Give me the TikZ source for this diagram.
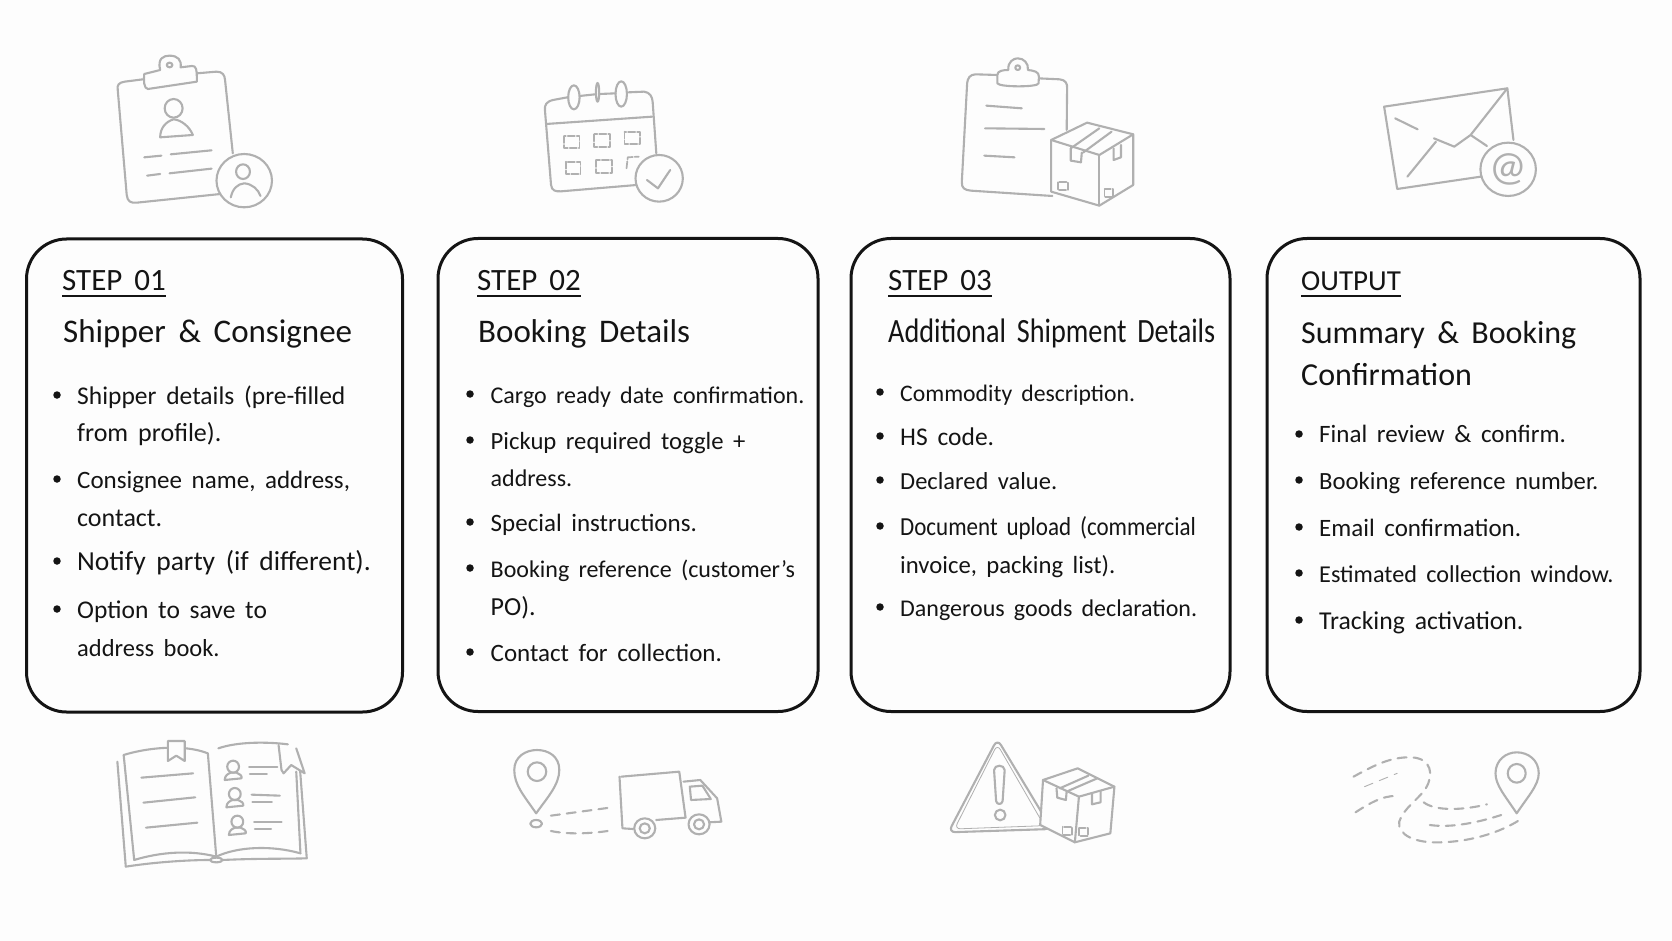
\documentclass[tikz,border=0pt]{standalone}
\usepackage{fontspec}
\setmainfont[WordSpace=1.7]{Carlito}
\begin{document}
\begin{tikzpicture}[x=1pt,y=-1pt]

% Colori
\definecolor{paperWhite}{HTML}{FDFDFD}
\definecolor{inkBlack}{HTML}{141414}
\definecolor{iconGray}{HTML}{B0B0B0}

\tikzset{
  fs/.style={font=\fontsize{#1}{#1}\selectfont},
  cardbox/.style={draw=inkBlack, fill=paperWhite, line width=3pt, rounded corners=40pt, inner sep=0pt, minimum height=473pt},
  steplabel/.style={anchor=base west, inner sep=0pt, fs=31, text=inkBlack},
  cardtitle/.style={anchor=base west, inner sep=0pt, fs=33, text=inkBlack},
  itemtext/.style={anchor=base west, inner sep=0pt, fs=25, text=inkBlack},
  itemdot/.style={circle, fill=inkBlack, inner sep=0pt, minimum size=7.5pt},
  stepline/.style={draw=inkBlack, line width=1.8pt},
  icon/.style={draw=iconGray, line width=2.1pt, line cap=round, line join=round},
  iconfill/.style={icon, fill=paperWhite},
  icondash/.style={icon, dash pattern=on 9pt off 7pt},
  iconsketch/.style={icon, line width=1.7pt, dash pattern=on 7pt off 2pt},
  crop/.style n args={3}{shift={(#1,#2)}, x=#3pt, y=-0.3333pt}
}

% Sfondo
\fill[paperWhite] (0,0) rectangle (1672,941);
\useasboundingbox (0,0) rectangle (1672,941);

% Schede
\node[cardbox, minimum width=376pt] (cardA) at (214.5,475.5) {};
\node[cardbox, minimum width=380pt] (cardB) at (628,475) {};
\node[cardbox, minimum width=379pt] (cardC) at (1040.5,475) {};
\node[cardbox, minimum width=373pt] (cardD) at (1453.5,475) {};

% Step 01
\node[steplabel] (stepA) at (62,290) {STEP 01};
\draw[stepline] ([yshift=-6pt]stepA.base west) -- ([yshift=-6pt]stepA.base east);
\node[cardtitle] (titleA) at (63,342) {Shipper \& Consignee};
\node[itemdot] (dotAa) at (57,395) {};
\node[itemtext, fs=25.5] (itemAa) at (77,404) {Shipper details (pre-filled};
\node[itemtext, fs=26] (itemAb) at (77,441) {from profile).};
\node[itemdot] (dotAc) at (57,479) {};
\node[itemtext, fs=25] (itemAc) at (77,488) {Consignee name, address,};
\node[itemtext, fs=26] (itemAd) at (77,526) {contact.};
\node[itemdot] (dotAe) at (57,561) {};
\node[itemtext, fs=27.5] (itemAe) at (77,570) {Notify party (if different).};
\node[itemdot] (dotAf) at (57,609) {};
\node[itemtext, fs=25.5] (itemAf) at (77,618) {Option to save to};
\node[itemtext, fs=24.5] (itemAg) at (77,656) {address book.};

% Step 02
\node[steplabel] (stepB) at (477,290) {STEP 02};
\draw[stepline] ([yshift=-6pt]stepB.base west) -- ([yshift=-6pt]stepB.base east);
\node[cardtitle] (titleB) at (478,342) {Booking Details};
\node[itemdot] (dotBa) at (470,394) {};
\node[itemtext, fs=24] (itemBa) at (490.5,403) {Cargo ready date confirmation.};
\node[itemdot] (dotBb) at (470,440) {};
\node[itemtext, fs=24.7] (itemBb) at (490.5,449) {Pickup required toggle +};
\node[itemtext, fs=24] (itemBc) at (490.5,486) {address.};
\node[itemdot] (dotBd) at (470,522) {};
\node[itemtext] (itemBd) at (490.5,531) {Special instructions.};
\node[itemdot] (dotBe) at (470,568) {};
\node[itemtext, fs=24] (itemBe) at (490.5,577) {Booking reference (customer's};
\node[itemtext, fs=26] (itemBf) at (490.5,615) {PO).};
\node[itemdot] (dotBg) at (470,652) {};
\node[itemtext] (itemBg) at (490.5,661) {Contact for collection.};

% Step 03
\node[steplabel] (stepC) at (888,290) {STEP 03};
\draw[stepline] ([yshift=-6pt]stepC.base west) -- ([yshift=-6pt]stepC.base east);
\node[cardtitle, fs=34] (titleC) at (888,342) {\scalebox{0.83}[1]{Additional Shipment Details}};
\node[itemdot] (dotCa) at (880,392) {};
\node[itemtext, fs=23.7] (itemCa) at (900,401) {Commodity description.};
\node[itemdot] (dotCb) at (880,436) {};
\node[itemtext, fs=25.5] (itemCb) at (900,445) {HS code.};
\node[itemdot] (dotCc) at (880,480) {};
\node[itemtext, fs=24.5] (itemCc) at (900,489) {Declared value.};
\node[itemdot] (dotCd) at (880,526) {};
\node[itemtext, fs=26] (itemCd) at (900,535) {\scalebox{0.885}[1]{Document upload (commercial}};
\node[itemtext, fs=24.7] (itemCe) at (900,573) {invoice, packing list).};
\node[itemdot] (dotCf) at (880,607) {};
\node[itemtext, fs=24] (itemCf) at (900,616) {Dangerous goods declaration.};

% Output
\node[steplabel, fs=29] (stepD) at (1301,290) {OUTPUT};
\draw[stepline] ([yshift=-6pt]stepD.base west) -- ([yshift=-6pt]stepD.base east);
\node[cardtitle, fs=32] (titleD) at (1301,343) {Summary \& Booking};
\node[cardtitle, fs=32] (titleE) at (1301,385) {Confirmation};
\node[itemdot] (dotDa) at (1299,434) {};
\node[itemtext] (itemDa) at (1319,442.5) {Final review \& confirm.};
\node[itemdot] (dotDb) at (1299,480) {};
\node[itemtext, fs=24.7] (itemDb) at (1319,489) {Booking reference number.};
\node[itemdot] (dotDc) at (1299,527) {};
\node[itemtext] (itemDc) at (1319,536) {Email confirmation.};
\node[itemdot] (dotDd) at (1299,573) {};
\node[itemtext, fs=24.2] (itemDd) at (1319,582) {Estimated collection window.};
\node[itemdot] (dotDe) at (1299,620) {};
\node[itemtext, fs=25.7] (itemDe) at (1319,629) {Tracking activation.};

% Icone in alto: scheda e calendario
\begin{scope}[crop={90}{40}{0.408}]
% Scheda con persona
\draw[icon] (130,118) -- (85,125) .. controls (70,128) and (66,135) .. (68,150) -- (90,465) .. controls (92,485) and (100,490) .. (115,488) -- (320,462);
\draw[icon] (262,100) -- (310,95) .. controls (325,95) and (330,105) .. (331,120) -- (350,340);
\draw[iconfill] (133,102) -- (172,90) .. controls (165,55) and (180,47) .. (195,47) .. controls (215,47) and (225,60) .. (222,82) -- (250,78) .. controls (260,78) and (262,85) .. (262,125) -- (142,147) .. controls (132,147) and (131,120) .. (133,102) -- cycle;
\draw[icon] (195,75) ellipse [x radius=7, y radius=7];
\draw[icon] (205,205) ellipse [x radius=22, y radius=28];
\draw[icon] (172,292) .. controls (172,265) and (185,245) .. (205,238) .. controls (225,240) and (245,262) .. (252,285) -- cycle;
\draw[icon] (133,352) -- (175,347);
\draw[icon] (198,343) -- (298,331);
\draw[icon] (140,407) -- (172,402);
\draw[icon] (195,400) -- (298,386);
\draw[iconfill] (378,422) ellipse [x radius=68, y radius=80];
\draw[icon] (375,395) ellipse [x radius=17, y radius=22];
\draw[icon] (345,472) .. controls (350,445) and (362,432) .. (378,430) .. controls (398,432) and (412,448) .. (418,468);
% Calendario
\draw[icon] (1170,172) -- (1135,180) .. controls (1118,185) and (1114,195) .. (1115,210) -- (1130,435) .. controls (1132,452) and (1140,455) .. (1155,454) -- (1340,435);
\draw[icon] (1320,157) -- (1358,155) .. controls (1372,157) and (1378,170) .. (1379,185) -- (1388,340);
\draw[icon] (1186,172) ellipse [x radius=14, y radius=36];
\draw[icon] (1244,157) ellipse [x radius=4, y radius=28];
\draw[icon] (1302,162) ellipse [x radius=14, y radius=38];
\draw[icon] (1200,168) -- (1238,163);
\draw[icon] (1250,162) -- (1288,160);
\draw[icon] (1118,252) -- (1378,230);
\draw[iconsketch] (1162,288) rectangle (1200,325);
\draw[iconsketch] (1236,283) rectangle (1274,322);
\draw[iconsketch] (1310,275) rectangle (1348,312);
\draw[iconsketch] (1166,365) rectangle (1202,402);
\draw[iconsketch] (1240,360) rectangle (1280,398);
\draw[iconsketch] (1315,385) -- (1318,352) -- (1345,350);
\draw[iconfill] (1395,415) ellipse [x radius=58, y radius=70];
\draw[icon] (1365,420) -- (1392,445) -- (1422,390);
\end{scope}

% Icone in alto: scheda con pacco e busta
\begin{scope}[crop={930}{40}{0.408}]
\draw[icon] (165,105) -- (112,103) .. controls (98,103) and (92,115) .. (91,130) -- (78,425) .. controls (77,445) and (85,450) .. (100,452) -- (300,468);
\draw[icon] (265,115) -- (318,118) .. controls (332,120) and (337,130) .. (336,145) -- (335,270);
\draw[iconfill] (165,130) -- (165,105) .. controls (165,92) and (180,90) .. (192,90) .. controls (190,65) and (205,55) .. (215,55) .. controls (230,55) and (242,70) .. (240,90) .. controls (255,92) and (267,95) .. (267,110) -- (266,130) .. controls (266,142) and (170,142) .. (165,130) -- cycle;
\draw[icon] (215,83) ellipse [x radius=6, y radius=7];
\draw[icon] (138,197) -- (225,205);
\draw[icon] (135,265) -- (280,267);
\draw[icon] (133,347) -- (207,352);
\draw[iconfill] (297,300) -- (385,248) -- (498,283) -- (498,435) -- (415,497) -- (297,455) -- cycle;
\draw[icon] (297,300) -- (415,345) -- (498,283);
\draw[icon] (415,345) -- (415,497);
\draw[icon] (345,325) -- (415,265);
\draw[icon] (375,338) -- (445,275);
\draw[icon] (345,325) -- (345,362) -- (370,367) -- (372,338);
\draw[icon] (450,325) -- (450,360) -- (468,352) -- (468,315);
\draw[iconsketch] (313,427) rectangle (338,450);
\draw[iconsketch] (428,447) rectangle (448,472);
% Busta
\draw[icon] (1113,200) -- (1415,145) -- (1430,300);
\draw[icon] (1113,200) -- (1145,447) -- (1350,410);
\draw[icon] (1140,235) -- (1195,268);
\draw[icon] (1235,295) -- (1285,320) -- (1325,285) -- (1415,145);
\draw[icon] (1170,410) -- (1240,305);
\draw[icon] (1325,285) -- (1365,318);
\draw[iconfill] (1417,388) ellipse [x radius=68, y radius=80];
\node[text=iconGray, inner sep=0pt, fs=42] (atsign) at (1417,388) {@};
\end{scope}

% Icone in basso: rubrica e furgone
\begin{scope}[crop={90}{725}{0.4209}]
% Rubrica
\draw[icon] (65,110) -- (85,425) .. controls (150,412) and (230,405) .. (285,405);
\draw[icon] (315,405) .. controls (400,400) and (460,402) .. (515,400) -- (497,100);
\draw[icon] (80,90) .. controls (130,70) and (220,55) .. (280,85) -- (300,395);
\draw[icon] (80,90) -- (105,405) .. controls (170,380) and (240,375) .. (300,395);
\draw[icon] (305,70) .. controls (350,50) and (420,50) .. (470,58);
\draw[icon] (490,140) -- (500,385);
\draw[icon] (300,395) .. controls (350,365) and (430,360) .. (500,385);
\draw[icon] (300,405) ellipse [x radius=15, y radius=7];
\draw[iconfill] (185,108) -- (185,48) -- (225,48) -- (225,108) -- (205,92) -- cycle;
\draw[iconfill] (448,60) -- (455,135) -- (460,145) -- (478,120) -- (510,145) -- (490,70);
\draw[icon] (122,158) -- (245,145);
\draw[icon] (127,233) -- (250,217);
\draw[icon] (133,308) -- (255,293);
\draw[icon] (340,125) ellipse [x radius=14, y radius=18];
\draw[icon] (320,165) .. controls (320,150) and (330,145) .. (335,143) -- (348,143) .. controls (355,146) and (362,152) .. (360,160) -- cycle;
\draw[icon] (378,127) -- (445,127);
\draw[icon] (380,147) -- (420,147);
\draw[icon] (344,207) ellipse [x radius=14, y radius=18];
\draw[icon] (324,247) .. controls (324,232) and (334,227) .. (339,225) -- (352,225) .. controls (359,228) and (366,234) .. (364,242) -- cycle;
\draw[icon] (384,209) -- (451,212);
\draw[icon] (386,230) -- (432,230);
\draw[icon] (350,290) ellipse [x radius=14, y radius=18];
\draw[icon] (330,330) .. controls (330,315) and (340,310) .. (345,308) -- (358,308) .. controls (365,311) and (372,317) .. (370,325) -- cycle;
\draw[icon] (390,292) -- (455,292);
\draw[icon] (392,312) -- (430,312);
% Segnaposto
\draw[icon] (1060,265) .. controls (1030,210) and (1008,180) .. (1008,135) .. controls (1008,95) and (1035,75) .. (1062,75) .. controls (1090,75) and (1115,95) .. (1115,135) .. controls (1115,180) and (1085,220) .. (1060,265) -- cycle;
\draw[icon] (1062,140) ellipse [x radius=22, y radius=28];
\draw[icon] (1060,296) ellipse [x radius=14, y radius=11];
\draw[icondash] (1095,272) -- (1235,248);
\draw[icondash] (1095,318) .. controls (1140,330) and (1200,325) .. (1245,315);
% Furgone
\draw[icon] (1262,155) -- (1400,140) -- (1415,278) -- (1345,285);
\draw[icon] (1258,155) -- (1265,310) -- (1290,312);
\draw[icon] (1410,170) -- (1450,165) -- (1490,220) -- (1500,290) -- (1470,292);
\draw[icon] (1425,185) -- (1455,182) -- (1475,222) -- (1428,225) -- cycle;
\draw[iconfill] (1318,310) ellipse [x radius=25, y radius=30];
\draw[icon] (1318,310) ellipse [x radius=12, y radius=15];
\draw[iconfill] (1447,298) ellipse [x radius=25, y radius=30];
\draw[icon] (1447,298) ellipse [x radius=12, y radius=15];
\end{scope}

% Icone in basso: pericolo e percorso
\begin{scope}[crop={930}{725}{0.408}]
\draw[icon, rounded corners=7pt] (165,42) -- (298,312) -- (45,322) -- cycle;
\draw[icon, line width=0.8pt, rounded corners=6pt] (165,58) -- (280,302) -- (60,312) -- cycle;
\draw[icon] (157,135) .. controls (158,118) and (182,118) .. (183,135) -- (178,228) .. controls (176,240) and (164,240) .. (162,228) -- cycle;
\draw[icon] (172,270) ellipse [x radius=13, y radius=16];
\draw[iconfill] (277,165) -- (362,130) -- (452,185) -- (442,325) -- (355,352) -- (270,300) -- cycle;
\draw[icon] (277,165) -- (365,215) -- (452,185);
\draw[icon] (365,215) -- (355,352);
\draw[icon] (318,190) -- (388,152);
\draw[icon] (340,197) -- (410,160);
\draw[icon] (310,190) -- (312,218) -- (333,225) -- (335,198);
\draw[icon] (397,205) -- (397,238) -- (418,232) -- (418,198);
\draw[iconsketch] (325,305) rectangle (348,330);
\draw[iconsketch] (365,310) rectangle (388,332);
% Percorso
\draw[icondash] (1038,155) .. controls (1090,120) and (1130,95) .. (1180,97) .. controls (1230,100) and (1235,150) .. (1215,190) .. controls (1200,220) and (1160,250) .. (1150,290) .. controls (1145,330) and (1190,355) .. (1250,352) .. controls (1330,350) and (1400,320) .. (1445,285);
\draw[icondash] (1043,262) .. controls (1070,240) and (1110,210) .. (1145,213);
\draw[icondash] (1210,232) .. controls (1240,260) and (1310,255) .. (1365,238);
\draw[icondash] (1225,300) .. controls (1280,310) and (1350,290) .. (1400,270);
\draw[icondash, line width=0.9pt] (1065,185) -- (1145,145);
\draw[icon] (1438,265) .. controls (1408,210) and (1386,180) .. (1386,145) .. controls (1386,105) and (1412,82) .. (1438,82) .. controls (1466,82) and (1492,105) .. (1492,145) .. controls (1492,180) and (1465,215) .. (1438,265) -- cycle;
\draw[icon] (1438,145) ellipse [x radius=22, y radius=28];
\end{scope}
\end{tikzpicture}
\end{document}
